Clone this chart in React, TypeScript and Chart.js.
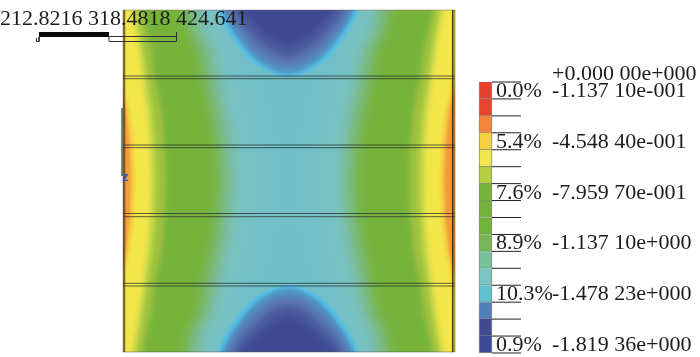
import React, { useEffect, useRef } from "react";
import { Chart, registerables } from "chart.js";

// ---- Field: contour edges (sheet coordinates)
const rowY = [2, 31, 51, 78, 111, 146, 181, 216, 251, 284, 311, 331, 360];
const bandColors = ["#f6cf40", "#f3e64b", "#c9d947", "#9ec23f", "#77b33b", "#78b54b", "#7ab974", "#7cbc98", "#7abfb4", "#78c2c2", "#72bfc8"];
const bandBlur = [1.5, 1.5, 2.5, 2.5, 2.5, 3.5, 4, 4, 4, 4, 8];
const bandLeft = [
  [116, 116, 116, 118, 126, 130, 131, 130, 126, 118, 116, 116, 116],
  [116, 116, 118, 122, 130, 134, 135, 134, 130, 122, 118, 116, 116],
  [130, 136, 139, 143, 147, 150, 150, 150, 147, 143, 139, 136, 130],
  [135, 140, 143, 147, 152, 155, 156, 155, 152, 147, 143, 140, 135],
  [141, 147, 152, 155, 162, 165, 166, 165, 162, 155, 152, 147, 141],
  [178, 183, 193, 198, 205, 211, 213, 211, 205, 198, 193, 183, 178],
  [185, 190, 200, 205, 212, 218, 220, 218, 212, 205, 200, 190, 185],
  [192, 197, 207, 212, 219, 225, 227, 225, 219, 212, 207, 197, 192],
  [198, 203, 213, 218, 225, 231, 233, 231, 225, 218, 213, 203, 198],
  [204, 209, 219, 224, 231, 237, 239, 237, 231, 224, 219, 209, 204],
  [212, 222, 230, 238, 248, 257, 262, 257, 248, 238, 230, 222, 212],
];
const bandRight = [
  [459, 459, 459, 457, 449, 445, 444, 445, 449, 457, 459, 459, 459],
  [459, 459, 457, 453, 445, 441, 440, 441, 445, 453, 457, 459, 459],
  [445, 439, 436, 432, 428, 425, 425, 425, 428, 432, 436, 439, 445],
  [440, 435, 432, 428, 423, 420, 419, 420, 423, 428, 432, 435, 440],
  [434, 428, 423, 420, 413, 410, 409, 410, 413, 420, 423, 428, 434],
  [397, 392, 382, 377, 370, 364, 362, 364, 370, 377, 382, 392, 397],
  [390, 385, 375, 370, 363, 357, 355, 357, 363, 370, 375, 385, 390],
  [383, 378, 368, 363, 356, 350, 348, 350, 356, 363, 368, 378, 383],
  [377, 372, 362, 357, 350, 344, 342, 344, 350, 357, 362, 372, 377],
  [371, 366, 356, 351, 344, 338, 336, 338, 344, 351, 356, 366, 371],
  [363, 353, 345, 337, 327, 318, 313, 318, 327, 337, 345, 353, 363],
];
const domeColors = ["#55bfe6", "#4f9ccb", "#5a78b0", "#4a5a9e", "#3f4a92"];
const domeX = [
  [214, 225, 233, 250, 273, 288, 303, 326, 343, 351, 362],
  [218, 229, 237, 253, 274, 288, 302, 323, 339, 347, 358],
  [222, 232, 241, 256, 275, 288, 301, 320, 335, 344, 354],
  [229, 239, 250, 264, 278, 288, 298, 312, 326, 337, 347],
  [236, 246, 258, 270, 280, 288, 296, 306, 318, 330, 340],
];
const domeTopY = [
  [2, 26, 39, 60, 74, 77, 74, 60, 39, 26, 2],
  [2, 25, 37, 57, 71, 74, 71, 57, 37, 25, 2],
  [2, 23, 35, 53, 65, 67, 65, 53, 35, 23, 2],
  [2, 20, 33, 46, 55, 57, 55, 46, 33, 20, 2],
  [2, 16, 28, 38, 43, 45, 43, 38, 28, 16, 2],
];
const domeBottomY = [
  [360, 336, 323, 302, 288, 285, 288, 302, 323, 336, 360],
  [360, 337, 325, 305, 291, 288, 291, 305, 325, 337, 360],
  [360, 339, 327, 309, 297, 295, 297, 309, 327, 339, 360],
  [360, 342, 329, 316, 307, 305, 307, 316, 329, 342, 360],
  [360, 346, 334, 324, 319, 317, 319, 324, 334, 346, 360],
];
const sectionLineY = [76, 78.7, 145, 147.7, 213.5, 216.7, 283.3, 286];

// ---- Legend
const stressEdges = [0, -0.11371, -0.22742, -0.34113, -0.45484, -0.56855, -0.68226, -0.79597, -0.90968, -1.02339, -1.1371, -1.25081, -1.36452, -1.47823, -1.59194, -1.70565, -1.81936];
const legendColors = ["#e8402f", "#e9452e", "#f2863a", "#f6d03e", "#f0e64e", "#b5cf45", "#78b43a", "#74b23c", "#72b33a", "#77b655", "#79c19a", "#7ac6c4", "#60bfd0", "#5080bb", "#3f4a92", "#3e4a96"];
const valueLabels = ["+0.000 00e+000", "-1.137 10e-001", "-4.548 40e-001", "-7.959 70e-001", "-1.137 10e+000", "-1.478 23e+000", "-1.819 36e+000"];
const valueLabelStress = [0, -0.11371, -0.45484, -0.79597, -1.1371, -1.47823, -1.81936];
const percentLabels = ["0.0%", "5.4%", "7.6%", "8.9%", "10.3%", "0.9%"];
const percentLabelStress = [-0.11371, -0.45484, -0.79597, -1.1371, -1.47823, -1.81936];
const scaleLabels = "212.8216 318.4818 424.641";

const FONT = '22px "Liberation Serif", serif';

const softEdges = {
  id: "softEdges",
  beforeDatasetDraw(chart: any, args: any) {
    const soft = chart.data.datasets[args.index].soft;
    if (soft === undefined) return;
    const { x, y } = chart.scales;
    const ctx = chart.ctx;
    ctx.save();
    ctx.beginPath();
    const l = x.getPixelForValue(123), r = x.getPixelForValue(455);
    const t = y.getPixelForValue(10), b = y.getPixelForValue(352);
    ctx.rect(l, t, r - l, b - t);
    ctx.clip();
    ctx.filter = soft ? `blur(${soft}px)` : "none";
  },
  afterDatasetDraw(chart: any, args: any) {
    if (chart.data.datasets[args.index].soft !== undefined) chart.ctx.restore();
  },
};

const legendText = {
  id: "legendText",
  afterDraw(chart: any) {
    const { ctx, scales } = chart;
    const { x, stress, y } = scales;
    ctx.save();
    ctx.font = FONT;
    ctx.fillStyle = "#1c1c1c";
    ctx.textBaseline = "alphabetic";
    ctx.textAlign = "left";
    valueLabels.forEach((t, i) => {
      ctx.fillText(t, x.getPixelForValue(552), stress.getPixelForValue(valueLabelStress[i]) - 2);
    });
    percentLabels.forEach((t, i) => {
      ctx.fillText(t, x.getPixelForValue(496), stress.getPixelForValue(percentLabelStress[i]) - 2);
    });
    ctx.fillText(scaleLabels, x.getPixelForValue(0), y.getPixelForValue(25));
    ctx.font = 'bold 13px "Liberation Sans", sans-serif';
    ctx.fillStyle = "#3550c0";
    ctx.fillText("z", x.getPixelForValue(122), y.getPixelForValue(181));
    ctx.restore();
  },
};

Chart.register(softEdges, ...registerables);

const closedLayer = (points: { x: number; y: number }[], color: string, soft: number, order: number, tension = 0) => ({
  type: "scatter",
  data: points,
  showLine: true,
  fill: "shape",
  backgroundColor: color,
  borderWidth: 0,
  borderColor: "transparent",
  pointRadius: 0,
  tension,
  soft,
  order,
});

const strokeLine = (points: { x: number; y: number | null }[], color: string, width: number, order: number) => ({
  type: "scatter",
  data: points,
  showLine: true,
  fill: false,
  borderColor: color,
  borderWidth: width,
  pointRadius: 0,
  spanGaps: false,
  order,
});

const buildDatasets = () => {
  const sets: any[] = [];
  let order = 100;
  sets.push(closedLayer([{ x: 110, y: 0 }, { x: 110, y: 360 }, { x: 470, y: 360 }, { x: 470, y: 0 }], "#f39a3c", 0, order--));
  bandColors.forEach((c, i) => {
    const pts = [
      ...rowY.map((y, k) => ({ x: bandLeft[i][k], y })),
      ...rowY.map((y, k) => ({ x: bandRight[i][k], y })).reverse(),
    ];
    sets.push(closedLayer(pts, c, bandBlur[i], order--));
  });
  domeColors.forEach((c, i) => {
    const blur = i === 0 ? 1.2 : i === 1 ? 1.5 : 3;
    sets.push(closedLayer(domeX[i].map((x, k) => ({ x, y: domeTopY[i][k] })), c, blur, order--, 0.35));
    sets.push(closedLayer(domeX[i].map((x, k) => ({ x, y: domeBottomY[i][k] })), c, blur, order--, 0.35));
  });
  // section lines
  const sec: any[] = [];
  sectionLineY.forEach((y) => {
    sec.push({ x: 123, y }, { x: 455, y }, { x: 455, y: null });
  });
  sets.push(strokeLine(sec, "rgba(35,45,45,0.72)", 1, 20));
  // frame
  sets.push(strokeLine([{ x: 123, y: 10 }, { x: 455, y: 10 }], "rgba(120,100,100,0.45)", 1, 19));
  sets.push(strokeLine([{ x: 123, y: 352 }, { x: 455, y: 352 }], "rgba(90,90,90,0.5)", 1, 19));
  sets.push(strokeLine([{ x: 124, y: 10 }, { x: 124, y: 352 }], "rgba(70,55,30,0.7)", 2.5, 18));
  sets.push(strokeLine([{ x: 454.5, y: 10 }, { x: 454.5, y: 352 }], "rgba(110,90,50,0.5)", 2, 18));
  sets.push(strokeLine([{ x: 452.7, y: 10 }, { x: 452.7, y: 352 }], "rgba(40,35,25,0.85)", 1.5, 17));
  sets.push(strokeLine([{ x: 122, y: 108 }, { x: 122, y: 176 }], "#3d6b4a", 1.5, 16));
  // scale bar
  sets.push(strokeLine([{ x: 39, y: 34.5 }, { x: 109, y: 34.5 }], "#0a0a0a", 5, 10));
  sets.push(strokeLine([{ x: 109, y: 36.5 }, { x: 176.5, y: 36.5 }, { x: 176.5, y: 32 }, { x: 176.5, y: 42 }, { x: 176.5, y: 41.5 }, { x: 109, y: 41.5 }, { x: 109, y: 36.5 }], "#333", 1, 10));
  sets.push(strokeLine([{ x: 39, y: 37 }, { x: 39, y: 41.5 }, { x: 36.5, y: 41.5 }, { x: 36.5, y: 38 }], "#333", 1, 10));
  // colour bar
  sets.push({
    type: "bar",
    yAxisID: "stress",
    data: legendColors.map((_, i) => ({ x: 485.5, y: [stressEdges[i], stressEdges[i + 1]] })),
    backgroundColor: legendColors,
    borderColor: "rgba(120,120,110,0.85)",
    borderWidth: 1,
    barThickness: 13,
    order: 5,
  });
  const ticks: any[] = [];
  stressEdges.forEach((y) => {
    ticks.push({ x: 492, y }, { x: 521, y }, { x: 521, y: null });
  });
  sets.push({ ...strokeLine(ticks, "#222", 1, 4), yAxisID: "stress" });
  return sets;
};

export default function App() {
  const ref = useRef<HTMLCanvasElement | null>(null);
  useEffect(() => {
    if (!ref.current) return;
    const chart = new Chart(ref.current, {
      type: "scatter",
      data: { datasets: buildDatasets() } as any,
      plugins: [legendText],
      options: {
        animation: false,
        responsive: false,
        layout: { padding: 0 },
        plugins: { legend: { display: false }, tooltip: { enabled: false } },
        scales: {
          x: { type: "linear", min: 0, max: 700, display: false, offset: false },
          y: { type: "linear", min: 0, max: 357, reverse: true, display: false },
          stress: { axis: "y", position: "right", type: "linear", min: -1.84622, max: 0.5505, display: false },
        },
      } as any,
    });
    return () => chart.destroy();
  }, []);
  return (
    <div style={{ position: "fixed", left: 0, top: 0, width: 700, height: 357, background: "#fff" }}>
      <canvas ref={ref} width={700} height={357} style={{ display: "block" }} />
    </div>
  );
}
